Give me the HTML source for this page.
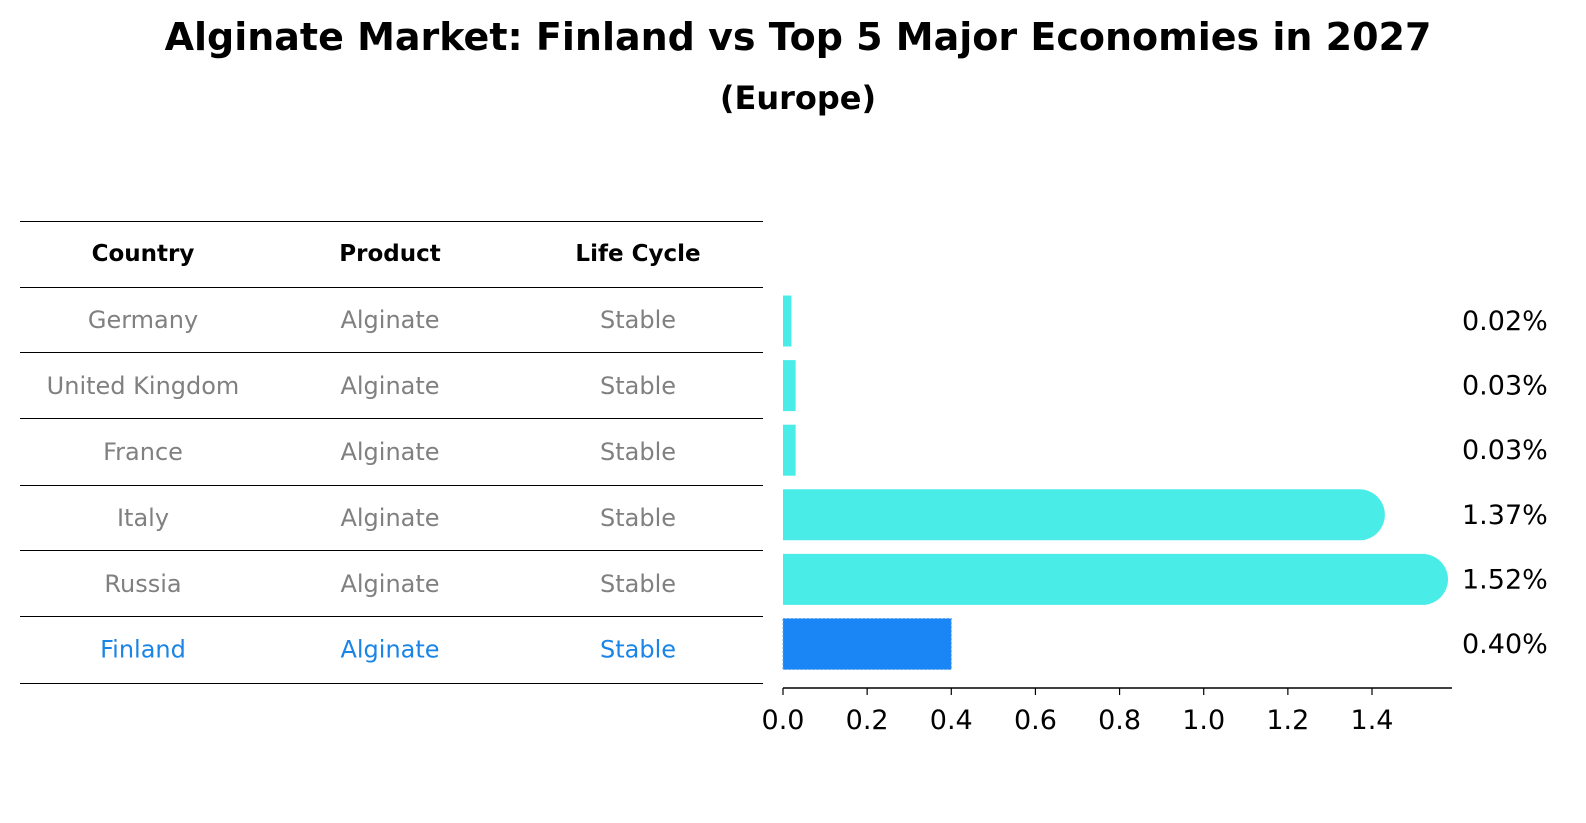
<!DOCTYPE html>
<html><head><meta charset="utf-8"><style>
body{margin:0;background:#fff;font-family:"DejaVu Sans","Liberation Sans",sans-serif;}
#wrap{position:relative;width:1586px;height:823px;overflow:hidden;}
</style></head><body>
<div id="wrap">
<svg id="svg" width="1586" height="823" xmlns="http://www.w3.org/2000/svg" font-family="DejaVu Sans, Liberation Sans, sans-serif">
<text x="798" y="50" text-anchor="middle" font-size="38" font-weight="bold">Alginate Market: Finland vs Top 5 Major Economies in 2027</text>
<text x="798" y="109" text-anchor="middle" font-size="32" font-weight="bold">(Europe)</text>
<g id="table"></g>
<g id="bars"></g>
</svg>
</div>
<script>
const countries=["Germany","United Kingdom","France","Italy","Russia","Finland"];
const products=["Alginate","Alginate","Alginate","Alginate","Alginate","Alginate"];
const lifeCycles=["Stable","Stable","Stable","Stable","Stable","Stable"];
const shares=[0.02,0.03,0.03,1.37,1.52,0.40];
const shareLabels=["0.02%","0.03%","0.03%","1.37%","1.52%","0.40%"];
const xTicks=[0.0,0.2,0.4,0.6,0.8,1.0,1.2,1.4];
const headers=["Country","Product","Life Cycle"];

const NS="http://www.w3.org/2000/svg";
function mk(tag,attrs,parent,txt){const e=document.createElementNS(NS,tag);for(const k in attrs)e.setAttribute(k,attrs[k]);if(txt!==undefined)e.textContent=txt;parent.appendChild(e);return e;}
const tbl=document.getElementById('table'), bars=document.getElementById('bars');
const colX=[143,390,638];
const lineYs=[221,287,352,418,485,550,616,683];
lineYs.forEach((y,i)=>{const l=mk('line',{x1:20,x2:763,y1:y+0.5,y2:y+0.5,stroke:'#000','stroke-width':1},tbl);

});
headers.forEach((h,i)=>{const t=mk('text',{x:colX[i],y:261,'text-anchor':'middle','font-size':23,'font-weight':'bold'},tbl,h);

});
const rowTop=287, rowH=65.95;
countries.forEach((c,i)=>{const y=rowTop+rowH*(i+0.5)+8;const col=c==="Finland"?"#1a85e6":"#808080";
[c,products[i],lifeCycles[i]].forEach((v,j)=>{const t=mk('text',{x:colX[j],y:y,'text-anchor':'middle','font-size':24,fill:col},tbl,v);

});});

const x0=783, pxPer=(1372-783)/1.4;
const X=v=>x0+v*pxPer;
const rowC=i=>321+i*64.6;
const bh=51;
countries.forEach((c,i)=>{
 const w=X(shares[i])-x0, yc=rowC(i), y=yc-bh/2;
 const fin=c==="Finland";
 let el;
 if(fin){el=mk('rect',{x:x0,y:y,width:w,height:bh,fill:'#1a85f5',stroke:'#5aa8f0','stroke-dasharray':'2,2','stroke-width':1},bars);}
 else if(w>bh){const r=bh/2;el=mk('path',{d:`M${x0},${y} H${x0+w} A${r},${r} 0 0 1 ${x0+w},${y+bh} H${x0} Z`,fill:'#4aece8'},bars);}
 else{el=mk('rect',{x:x0,y:y,width:w,height:bh,fill:'#4aece8'},bars);}
 
 
 const t=mk('text',{x:1462,y:yc+9,'font-size':27},bars,shareLabels[i]);
 
 
});
const ax=mk('line',{x1:x0,x2:1452,y1:688,y2:688,stroke:'#000','stroke-width':1.5},bars);


xTicks.forEach(v=>{const tk=mk('line',{x1:X(v),x2:X(v),y1:688,y2:695,stroke:'#000','stroke-width':1.2},bars);


const t=mk('text',{x:X(v),y:729,'text-anchor':'middle','font-size':27},bars,v.toFixed(1));

});
</script>
</body></html>
